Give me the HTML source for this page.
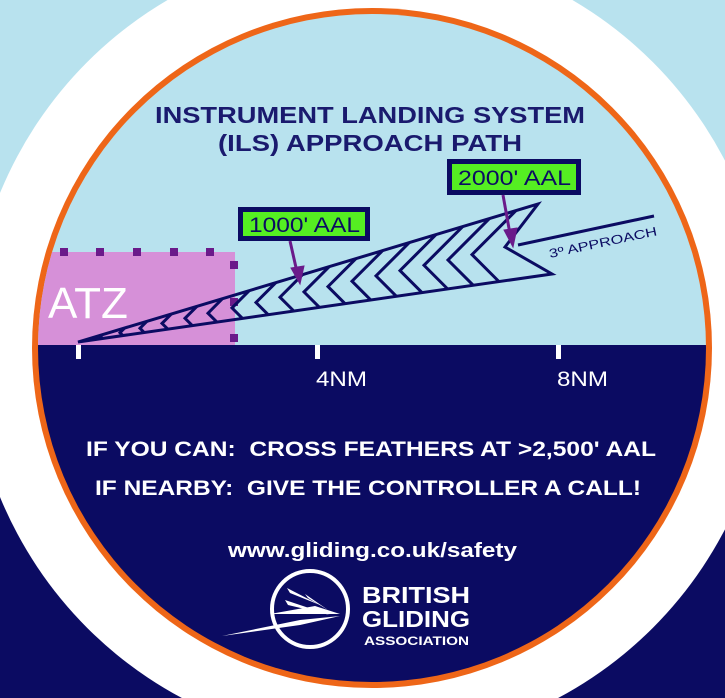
<!DOCTYPE html>
<html><head><meta charset="utf-8"><style>
html,body{margin:0;padding:0;width:725px;height:698px;overflow:hidden}
svg{display:block}
text{font-family:"Liberation Sans",Arial,sans-serif}
</style></head><body>
<svg width="725" height="698" viewBox="0 0 725 698" xmlns="http://www.w3.org/2000/svg">
<defs><clipPath id="c"><circle cx="372" cy="348" r="334"/></clipPath></defs>
<rect x="0" y="0" width="725" height="345" fill="#b8e2ee"/>
<rect x="0" y="345" width="725" height="353" fill="#0b0b62"/>
<circle cx="370" cy="345" r="400" fill="#ffffff"/>
<circle cx="372" cy="348" r="340" fill="#ee6618"/>
<g clip-path="url(#c)">
<rect x="0" y="0" width="725" height="345" fill="#b8e2ee"/>
<rect x="0" y="345" width="725" height="400" fill="#0b0b62"/>
<rect x="20" y="252" width="215" height="93" fill="#d690d8"/>
</g>
<g fill="#6a1a8a">
<rect x="60" y="248" width="8" height="8"/><rect x="96" y="248" width="8" height="8"/>
<rect x="133" y="248" width="8" height="8"/><rect x="170" y="248" width="8" height="8"/>
<rect x="206" y="248" width="8" height="8"/>
<rect x="230" y="261" width="8" height="8"/><rect x="230" y="298" width="8" height="8"/>
<rect x="230" y="334" width="8" height="8"/>
</g>
<text x="48" y="318" font-size="44" fill="#fff">ATZ</text>
<text x="155" y="123" font-size="23" font-weight="bold" fill="#1a1a6e" textLength="430" lengthAdjust="spacingAndGlyphs">INSTRUMENT LANDING SYSTEM</text>
<text x="218" y="151" font-size="23" font-weight="bold" fill="#1a1a6e" textLength="304" lengthAdjust="spacingAndGlyphs">(ILS) APPROACH PATH</text>
<g fill="none" stroke="#0b0b62" stroke-width="3" stroke-linejoin="miter">
<path d="M78,342 L538,204 L505,247 L552,274 Z"/>
<path d="M102.5,334.7 L100,337.1 L101.5,338.6"/>
<path d="M124.7,328 L120,332.7 L122.9,335.6"/>
<path d="M146.9,321.3 L140,328.2 L144.2,332.5"/>
<path d="M171.4,314 L162,323.4 L167.8,329.1"/>
<path d="M197,306.3 L185,318.3 L192.3,325.6"/>
<path d="M222.5,298.6 L208,313.2 L216.9,322.1"/>
<path d="M249.2,290.7 L232,307.9 L242.5,318.4"/>
<path d="M275.9,282.6 L256,302.5 L268.2,314.7"/>
<path d="M302.6,274.6 L280,297.2 L293.8,311"/>
<path d="M329.3,266.6 L304,291.9 L319.5,307.4"/>
<path d="M356,258.6 L328,286.6 L345.1,303.7"/>
<path d="M382.6,250.6 L352,281.2 L370.7,299.9"/>
<path d="M409.3,242.6 L376,275.9 L396.4,296.3"/>
<path d="M436,234.6 L400,270.6 L422,292.6"/>
<path d="M462.7,226.6 L424,265.3 L447.7,289"/>
<path d="M489.4,218.6 L448,260 L473.3,285.3"/>
<path d="M516,210.6 L472,254.6 L498.9,281.5"/>
<path d="M518,245 L654,216"/>
</g>
<text x="0" y="0" font-size="12.5" fill="#0b0b62" transform="translate(550,258) rotate(-12)" textLength="110" lengthAdjust="spacingAndGlyphs">3º APPROACH</text>
<rect x="238" y="207" width="132" height="34" fill="#0b0b62"/>
<rect x="243" y="212" width="122" height="24" fill="#55ee22"/>
<text x="249" y="232" font-size="21" fill="#0b0b62" textLength="111" lengthAdjust="spacingAndGlyphs">1000' AAL</text>
<rect x="447" y="159" width="134" height="36" fill="#0b0b62"/>
<rect x="452" y="164" width="124" height="26" fill="#55ee22"/>
<text x="458" y="185" font-size="21" fill="#0b0b62" textLength="113" lengthAdjust="spacingAndGlyphs">2000' AAL</text>
<g stroke="#6a1a8a" stroke-width="3" fill="#6a1a8a">
<line x1="290" y1="241" x2="297" y2="272"/>
<path d="M291,268 L300,284 L304,266 Z" stroke-width="1"/>
<line x1="503" y1="195" x2="510" y2="234"/>
<path d="M504,230 L513,247 L517,228 Z" stroke-width="1"/>
</g>
<g fill="#fff">
<rect x="76" y="345" width="5" height="14"/>
<rect x="315" y="345" width="5" height="14"/>
<rect x="556" y="345" width="5" height="14"/>
</g>
<text x="316" y="386" font-size="21" fill="#fff" textLength="51" lengthAdjust="spacingAndGlyphs">4NM</text>
<text x="557" y="386" font-size="21" fill="#fff" textLength="51" lengthAdjust="spacingAndGlyphs">8NM</text>
<text x="86" y="456" font-size="21" font-weight="bold" fill="#fff" xml:space="preserve" textLength="570" lengthAdjust="spacingAndGlyphs">IF YOU CAN:  CROSS FEATHERS AT &gt;2,500' AAL</text>
<text x="95" y="495" font-size="21" font-weight="bold" fill="#fff" xml:space="preserve" textLength="546" lengthAdjust="spacingAndGlyphs">IF NEARBY:  GIVE THE CONTROLLER A CALL!</text>
<text x="228" y="557" font-size="20" font-weight="bold" fill="#fff" textLength="289" lengthAdjust="spacingAndGlyphs">www.gliding.co.uk/safety</text>
<circle cx="310" cy="609" r="38" fill="none" stroke="#fff" stroke-width="4"/>
<g fill="#fff">
<path d="M222,636 L300,620 L340,616 L300,625 Z"/>
<path d="M270,614 L315,606 L340,614 Z"/>
<path d="M285,600 L330,615 L288,605 Z"/>
<path d="M287,588 L320,605 L290,593 Z"/>
<path d="M305,594 L328,610 L308,598 Z"/>
</g>
<text x="362" y="603" font-size="23" font-weight="bold" fill="#fff" textLength="108" lengthAdjust="spacingAndGlyphs">BRITISH</text>
<text x="362" y="627" font-size="23" font-weight="bold" fill="#fff" textLength="108" lengthAdjust="spacingAndGlyphs">GLIDING</text>
<text x="364" y="645" font-size="12" font-weight="bold" fill="#fff" textLength="105" lengthAdjust="spacingAndGlyphs">ASSOCIATION</text>
</svg>
</body></html>
